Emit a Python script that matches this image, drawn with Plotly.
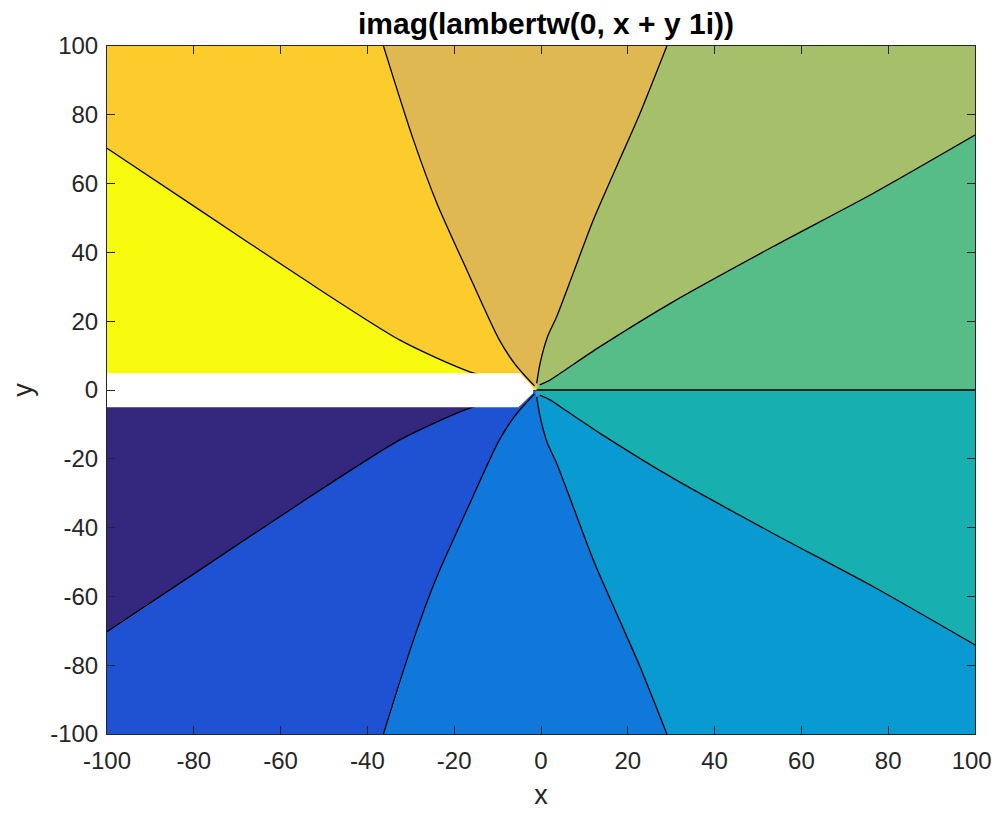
import plotly.graph_objects as go

# ---- data (upper half; lower half is the mirror image) ----
levels = [0.0, 0.5, 1.0, 1.5, 2.0]

line_00_x = [-1.0, 100.0]
line_00_y = [0.0, 0.0]
line_05_x = [-0.3, 2.0, 6.0, 13.6, 30.5, 53.5, 76.6, 100.0]
line_05_y = [1.5, 2.8, 6.2, 12.6, 25.7, 41.7, 57.2, 74.1]
line_10_x = [-1.0, -0.2, 1.5, 3.6, 7.4, 12.05, 17.4, 22.8, 29.0]
line_10_y = [1.9, 7.8, 15.5, 21.3, 33.9, 49.4, 64.9, 80.4, 100.0]
line_15_x = [-1.5, -3.6, -6.0, -9.8, -17.1, -24.0, -29.4, -36.3]
line_15_y = [1.2, 4.0, 7.5, 15.0, 34.9, 54.3, 72.7, 100.0]
line_20_x = [-1.8, -16.4, -32.5, -55.5, -78.6, -100.0]
line_20_y = [0.6, 5.3, 14.5, 32.9, 52.3, 70.3]
cut_x = [-1.8, -100.0]
cut_y = [0.0, 0.0]

# white gap along the branch cut
gap_x = [-105.0, -4.8, -1.8, -1.8, -5.2, -105.0]
gap_y = [4.85, 4.85, 0.7, -0.9, -5.0, -5.0]

center = (-1.0, 0.0)

upper_colors = ["#56BD89", "#A6BF6A", "#DFB852", "#FBCC2C", "#F8FA0D"]
lower_colors = ["#17AFAF", "#089AD0", "#0F78DA", "#1F52D2", "#33287E"]

x_ticks = [-100, -80, -60, -40, -20, 0, 20, 40, 60, 80, 100]
y_ticks = [-100, -80, -60, -40, -20, 0, 20, 40, 60, 80, 100]
# last x label padded so it stays inside the page's right edge
x_ticktext = [str(v) for v in x_ticks[:-1]] + [str(x_ticks[-1]) + "\u00a0"]

upper_lines = [
    (line_00_x, line_00_y),
    (line_05_x, line_05_y),
    (line_10_x, line_10_y),
    (line_15_x, line_15_y),
    (line_20_x, line_20_y),
    (cut_x, cut_y),
]


def mirror(line):
    return (list(line[0]), [-v for v in line[1]])


lower_lines = [mirror(l) for l in upper_lines]

fig = go.Figure()
SMOOTH = 0.7


def region(p, q, color):
    px, py = p
    qx, qy = q
    FAR = 3.0
    xs = [center[0]] + list(px) + [px[-1] * FAR, qx[-1] * FAR] + list(qx[::-1]) + [center[0]]
    ys = [center[1]] + list(py) + [py[-1] * FAR, qy[-1] * FAR] + list(qy[::-1]) + [center[1]]
    fig.add_trace(go.Scatter(x=xs, y=ys, mode="lines", fill="toself", fillcolor=color,
                             line=dict(width=0, color=color, shape="spline", smoothing=SMOOTH),
                             hoverinfo="skip", showlegend=False))


for k in range(5):
    region(upper_lines[k], upper_lines[k + 1], upper_colors[k])
    region(lower_lines[k], lower_lines[k + 1], lower_colors[k])

# contour lines
for k in range(5):
    for lines in (upper_lines, lower_lines):
        if k == 0 and lines is lower_lines:
            continue
        lx, ly = lines[k]
        fig.add_trace(go.Scatter(x=lx, y=ly, mode="lines",
                                 line=dict(color="black", width=1.3, shape="spline", smoothing=SMOOTH),
                                 hoverinfo="skip", showlegend=False))

# gap (undefined values along the branch cut)
fig.add_trace(go.Scatter(x=gap_x, y=gap_y, mode="lines", fill="toself", fillcolor="white",
                         line=dict(width=0, color="white"), hoverinfo="skip", showlegend=False))

FONT = "Liberation Sans, Arial, sans-serif"
tick_font = dict(family=FONT, size=24, color="#262626")
axis_common = dict(
    showgrid=False, zeroline=False, showline=True, linecolor="#262626", linewidth=1,
    mirror="ticks", ticks="inside", ticklen=8, tickcolor="#262626", tickwidth=1,
    tickfont=tick_font, range=[-100, 100], automargin=False, ticklabeloverflow="allow",
)

# the page adds an 8px body margin on every side, so the figure is sized to fit
# the 1000x818 window exactly (no scrollbars)
W, H = 984, 802
fig.update_layout(
    width=W, height=H,
    margin=dict(l=99, r=17, t=38, b=76),
    paper_bgcolor="white", plot_bgcolor="white",
    title=dict(text="<b>imag(lambertw(0, x + y 1i))</b>", x=538 / W, xanchor="center",
               y=1 - 15 / H, yanchor="middle", yref="container",
               font=dict(family=FONT, size=30, color="black")),
    xaxis=dict(**axis_common, tickvals=x_ticks, ticktext=x_ticktext,
               ticklabelstandoff=5,
               title=dict(text="x", font=dict(family=FONT, size=27, color="#262626"), standoff=18)),
    yaxis=dict(**axis_common, tickvals=y_ticks, ticktext=[str(v) for v in y_ticks],
               ticklabelstandoff=3,
               title=dict(text="y", font=dict(family=FONT, size=27, color="#262626"), standoff=16)),
)

fig.write_html("out.html")
